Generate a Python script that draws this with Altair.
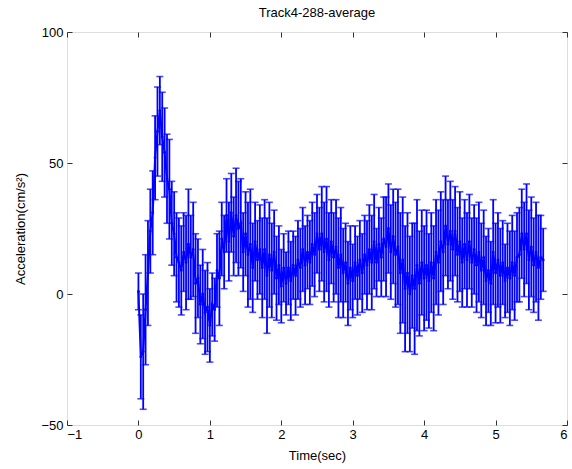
import altair as alt
import pandas as pd

# Time step 1/30 s (frames)
frame_rate = 30

means = [
    1, -24, -22, -6, 8, 24, 31, 52, 62, 70,
    60, 54, 44, 40, 27, 23, 14, 12, 9, 16,
    12, 19, 14, 17, 4, 6, -4, 0, -7, -5,
    -12, -4, -6, 9, 6, 21, 16, 30, 20, 31,
    22, 30, 25, 27, 16, 23, 15, 19, 10, 20,
    13, 17, 10, 17, 7, 15, 9, 16, 6, 11,
    3, 10, 4, 10, 5, 11, 7, 13, 10, 17,
    11, 16, 12, 19, 15, 23, 17, 23, 16, 21,
    13, 20, 14, 18, 10, 15, 8, 12, 4, 10,
    5, 12, 7, 13, 8, 15, 11, 17, 12, 20,
    12, 19, 14, 21, 18, 25, 16, 22, 15, 18,
    8, 13, 2, 8, 0, 7, 2, 11, 4, 12,
    6, 11, 5, 12, 6, 16, 12, 20, 16, 26,
    19, 24, 17, 24, 15, 20, 12, 19, 13, 20,
    12, 17, 11, 16, 9, 14, 5, 9, 4, 16,
    8, 13, 7, 12, 5, 10, 6, 12, 7, 14,
    15, 23, 17, 23, 13, 18, 11, 16, 10, 14,
    13,
]

errors = [
    7, 16, 22, 21, 20, 16, 16, 16, 17, 13,
    17, 17, 17, 19, 16, 16, 17, 17, 17, 15,
    18, 21, 16, 18, 19, 15, 15, 17, 16, 17,
    14, 12, 12, 14, 18, 14, 14, 14, 15, 15,
    15, 18, 18, 17, 15, 16, 20, 21, 17, 15,
    15, 17, 19, 19, 22, 20, 18, 16, 16, 15,
    14, 13, 12, 14, 15, 13, 15, 15, 15, 16,
    15, 14, 16, 16, 16, 15, 16, 18, 19, 20,
    18, 16, 17, 18, 19, 18, 17, 15, 16, 16,
    14, 14, 15, 15, 15, 15, 17, 17, 18, 18,
    13, 14, 15, 16, 19, 17, 18, 18, 20, 22,
    23, 24, 24, 23, 22, 20, 25, 25, 20, 20,
    20, 21, 18, 19, 20, 20, 20, 19, 20, 19,
    17, 19, 19, 17, 18, 19, 17, 17, 18, 18,
    17, 17, 18, 19, 18, 18, 17, 16, 16, 20,
    19, 18, 18, 16, 14, 17, 18, 18, 17, 17,
    18, 17, 18, 19, 19, 19, 18, 19, 20, 16,
    12,
]

x_ticks = [-1, 0, 1, 2, 3, 4, 5, 6]
y_ticks = [-50, 0, 50, 100]

n = min(len(means), len(errors))
df = pd.DataFrame({
    "t": [i / frame_rate for i in range(n)],
    "m": means[:n],
    "lo": [means[i] - errors[i] for i in range(n)],
    "hi": [means[i] + errors[i] for i in range(n)],
})

BLUE = "#0000ff"
FONT = "Liberation Sans"
AX = "#333333"

xs = alt.Scale(domain=[-1, 6], nice=False, zero=False)
ys = alt.Scale(domain=[-50, 100], nice=False, zero=False)

common_axis = dict(grid=False, domain=False, tickSize=5, offset=-5,
                   tickColor=AX, labelFont=FONT, labelFontSize=13,
                   labelColor="#000000", titleFont=FONT, titleFontSize=13,
                   titleFontWeight="normal", titleColor="#000000")

base = alt.Chart(df)

bars = base.mark_rule(color=BLUE, strokeWidth=1.8).encode(
    x=alt.X("t:Q", scale=xs, title="Time(sec)",
            axis=alt.Axis(values=x_ticks, orient="bottom", labelPadding=3,
                          titlePadding=8, **common_axis)),
    y=alt.Y("lo:Q", scale=ys, title="Acceleration(cm/s²)",
            axis=alt.Axis(values=y_ticks, orient="left", labelPadding=4,
                          titlePadding=13, **common_axis)),
    y2="hi:Q",
)

cap_top = base.mark_tick(color=BLUE, orient="horizontal", size=7, thickness=1.6).encode(
    x=alt.X("t:Q", scale=xs, title=None,
            axis=alt.Axis(values=x_ticks, orient="top", labels=False, **common_axis)),
    y=alt.Y("hi:Q", scale=ys, title=None,
            axis=alt.Axis(values=y_ticks, orient="right", labels=False, **common_axis)),
)

cap_bot = base.mark_tick(color=BLUE, orient="horizontal", size=7, thickness=1.6).encode(
    x=alt.X("t:Q", scale=xs, axis=None),
    y=alt.Y("lo:Q", scale=ys, axis=None),
)

line = base.mark_line(color=BLUE, strokeWidth=2,
                      point=alt.OverlayMarkDef(color=BLUE, size=8, filled=True)).encode(
    x=alt.X("t:Q", scale=xs, axis=None),
    y=alt.Y("m:Q", scale=ys, axis=None),
)

chart = alt.layer(bars, cap_top, cap_bot, line).resolve_axis(
    x="independent", y="independent"
).properties(
    width=500,
    height=393,
    autosize=alt.AutoSizeParams(type="none"),
    padding={"left": 67, "top": 32, "right": 5, "bottom": 44},
    title=alt.TitleParams("Track4-288-average", font=FONT, fontSize=13,
                          fontWeight="normal", color="#000000", offset=6),
).configure_view(
    stroke=AX, strokeWidth=1.5
).configure(background="white")

chart.save("out.html", embed_options={"renderer": "svg", "actions": False})
